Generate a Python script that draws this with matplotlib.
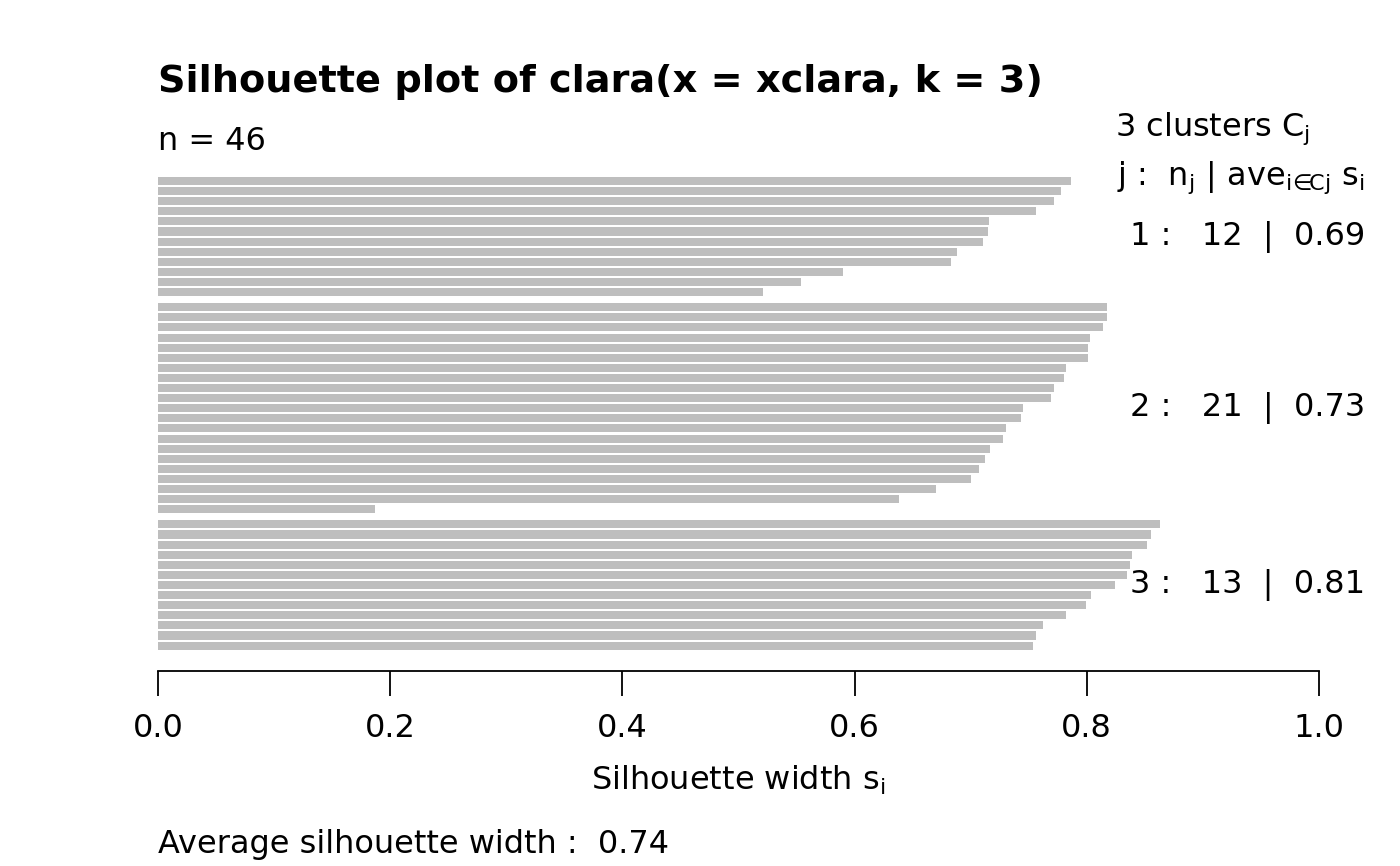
import numpy as np
import matplotlib
matplotlib.use("Agg")
import matplotlib.pyplot as plt
import matplotlib.transforms as mtransforms

# silhouette widths per cluster, sorted decreasing
sil_c1 = [0.786, 0.778, 0.772, 0.756, 0.716, 0.715, 0.711, 0.688, 0.683,
          0.590, 0.554, 0.521]
sil_c2 = [0.817, 0.817, 0.814, 0.803, 0.801, 0.801, 0.782, 0.780, 0.772,
          0.769, 0.745, 0.743, 0.730, 0.728, 0.717, 0.712, 0.707, 0.700,
          0.670, 0.638, 0.187]
sil_c3 = [0.863, 0.855, 0.852, 0.839, 0.837, 0.835, 0.824, 0.804, 0.799,
          0.782, 0.762, 0.756, 0.754]
cluster_ids = [1, 2, 3]
cluster_avg = [0.69, 0.73, 0.81]
overall_avg = 0.74
x_ticks = [0.0, 0.2, 0.4, 0.6, 0.8, 1.0]

clusters = [sil_c1, sil_c2, sil_c3]
n_total = sum(len(c) for c in clusters)

W, H = 1400, 866
fig = plt.figure(figsize=(W / 100, H / 100), dpi=100)
plt.rcParams['font.family'] = ['DejaVu Sans']

# axes placed in pixel terms
left, right, top, bottom = 158, 1319, 160, 671
ax = fig.add_axes([left / W, 1 - bottom / H, (right - left) / W, (bottom - top) / H])

pitch = 10.1      # pixels per bar
first_bar = 181   # pixel centre of top bar
gap = 0.5

pos = 0.0
centers = []
for k, vals in enumerate(clusters):
    ys = pos + np.arange(len(vals))
    ax.barh(ys, vals, height=0.8, left=0, color='#bebebe', linewidth=0)
    centers.append(ys.mean())
    pos = ys[-1] + 1 + gap

ax.set_xlim(0, 1)
ax.set_ylim((bottom - first_bar) / pitch, -(first_bar - top) / pitch)

fs = 23

for s in ['top', 'right', 'left']:
    ax.spines[s].set_visible(False)
ax.spines['bottom'].set_bounds(0, 1)
ax.spines['bottom'].set_linewidth(1.3)
ax.set_yticks([])
ax.set_xticks(x_ticks)
ax.set_xticklabels([f"{t:.1f}" for t in x_ticks], fontsize=fs)
ax.tick_params(axis='x', length=18, width=1.3, pad=12)
ax.set_xlabel(r'Silhouette width $\mathregular{s_i}$', fontsize=fs, labelpad=14)

def px(x, y):
    return x / W, 1 - y / H

fig.text(*px(158, 82), 'Silhouette plot of clara(x = xclara, k = 3)',
         fontsize=27.5, fontweight='bold', ha='left', va='center')
fig.text(*px(158, 141), f'n = {n_total}', fontsize=fs, ha='left', va='center')
fig.text(*px(1115, 129), r'3 clusters $\mathregular{C_j}$', fontsize=fs,
         ha='left', va='center')
fig.text(*px(1117, 178), r'j :  $\mathregular{n_j}$ | $\mathregular{ave_{i\!\in\!\!Cj}}$ $\mathregular{s_i}$',
         fontsize=fs, ha='left', va='center')
fig.text(*px(158, 844), f'Average silhouette width :  {overall_avg:.2f}',
         fontsize=fs, ha='left', va='center')

trans = mtransforms.blended_transform_factory(ax.transAxes, ax.transData)
x_lab = (1365 - left) / (right - left)
for cid, vals, avg, yc in zip(cluster_ids, clusters, cluster_avg, centers):
    ax.text(x_lab, yc, f'{cid} :   {len(vals)}  |  {avg:.2f}', transform=trans,
            fontsize=fs, ha='right', va='center', clip_on=False)

fig.savefig('out.png', dpi=100)
